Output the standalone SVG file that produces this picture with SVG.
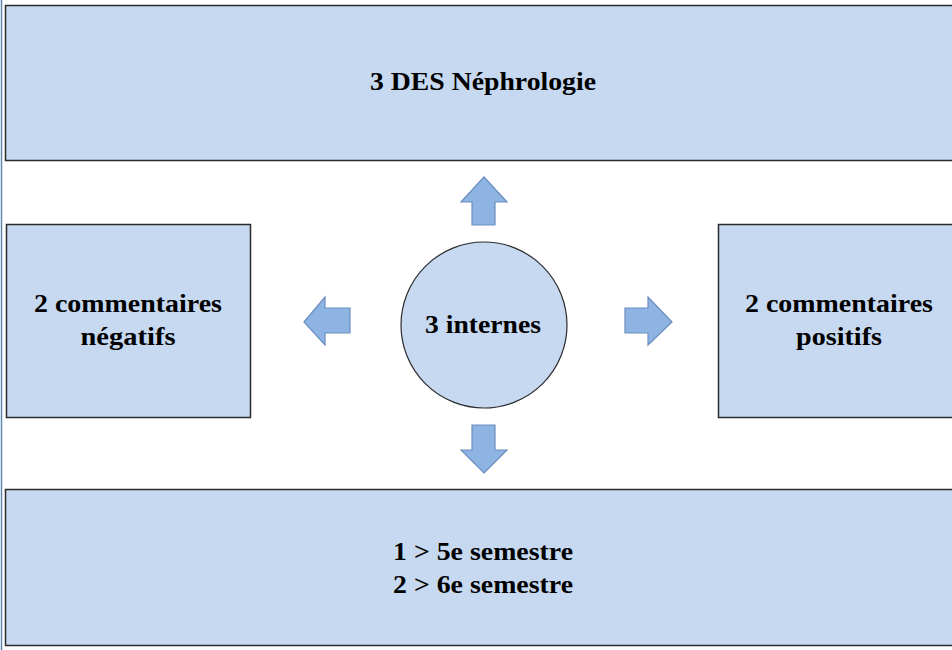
<svg xmlns="http://www.w3.org/2000/svg" width="952" height="650" viewBox="0 0 952 650">
<style>
.box{fill:#C6D9F0;stroke:#2b2b2b;stroke-width:1.5}
.arr{fill:#8EB4E3;stroke:#6C8EBF;stroke-width:1.2}
text{font-family:"Liberation Serif","Times New Roman",serif;font-weight:bold;font-size:25px;fill:#000;text-anchor:middle}
</style>
<rect width="952" height="650" fill="#fff"/>
<line x1="1.5" y1="0" x2="1.5" y2="650" stroke="#5B86B0" stroke-width="1.5"/>
<g id="top"><rect class="box" x="5.5" y="5.5" width="956" height="155"/><text x="483" y="90" textLength="226" lengthAdjust="spacingAndGlyphs">3 DES Néphrologie</text></g>
<g id="left"><rect class="box" x="6.5" y="224.5" width="244" height="193"/><text x="128" y="312" textLength="188" lengthAdjust="spacingAndGlyphs">2 commentaires</text><text x="128" y="345" textLength="95" lengthAdjust="spacingAndGlyphs">négatifs</text></g>
<g id="right"><rect class="box" x="718.5" y="224.5" width="244" height="193"/><text x="839" y="312" textLength="188" lengthAdjust="spacingAndGlyphs">2 commentaires</text><text x="839" y="345" textLength="86" lengthAdjust="spacingAndGlyphs">positifs</text></g>
<g id="center"><circle cx="484" cy="325" r="83" fill="#C6D9F0" stroke="#2b2b2b" stroke-width="1.2"/><text x="483" y="333" textLength="116" lengthAdjust="spacingAndGlyphs">3 internes</text></g>
<g id="bottom"><rect class="box" x="5.5" y="489.5" width="956" height="156"/><text x="483" y="560" textLength="180" lengthAdjust="spacingAndGlyphs">1 &gt; 5e semestre</text><text x="483" y="593" textLength="180" lengthAdjust="spacingAndGlyphs">2 &gt; 6e semestre</text></g>
<g id="connectors">
<polygon class="arr" points="484,177 507,202 495,202 495,225 472,225 472,202 461,202"/>
<polygon class="arr" points="484,473 507,450 495,450 495,425 472,425 472,450 461,450"/>
<polygon class="arr" points="304,322 325,297 325,308 350,308 350,333 325,333 325,345"/>
<polygon class="arr" points="672,322 648,297 648,308 625,308 625,333 648,333 648,345"/>
</g>
</svg>
